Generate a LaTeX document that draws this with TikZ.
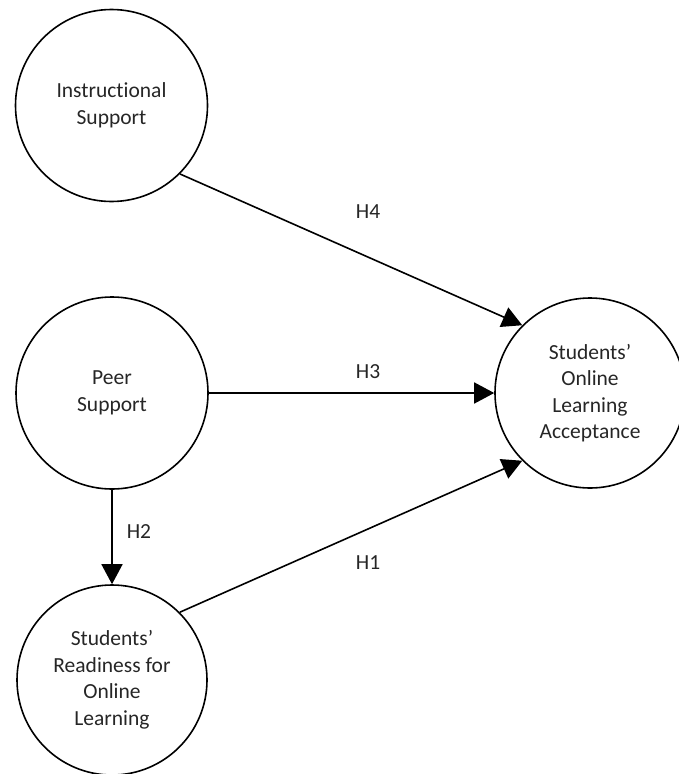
\documentclass[tikz,border=0pt]{standalone}
\usepackage{fontspec}
\setmainfont{Carlito}[Ligatures={NoCommon,NoDiscretionary}]
\usetikzlibrary{arrows.meta}

\tikzset{
  construct/.style={circle, draw=black, line width=1.6pt, inner sep=0pt,
    align=center, text=black!85, font=\fontsize{21.5}{26.5}\selectfont},
  path/.style={draw=black, line width=1.6pt, -{Triangle[length=20pt,width=21pt]}},
  hyp/.style={text=black!85, font=\fontsize{21.5}{26.5}\selectfont, inner sep=0pt}
}

\begin{document}
\begin{tikzpicture}[x=1pt, y=-1pt]
  \useasboundingbox (0,0) rectangle (678,774);

  % latent constructs
  \node[construct, minimum size=192pt] (inst)   at (111.5,105.5) {Instructional\\Support};
  \node[construct, minimum size=192pt] (peer)   at (112,393)     {Peer\\Support};
  \node[construct, minimum size=190pt] (ready)  at (112,680)     {Students’\\Readiness for\\Online\\Learning};
  \node[construct, minimum size=190pt] (accept) at (590,393)     {Students’\\Online\\Learning\\Acceptance};

  % hypothesised paths
  \draw[path] (inst.-45)  -- (accept.135);
  \draw[path] (peer.east) -- (accept.west);
  \draw[path] (peer.south) -- (ready.north);
  \draw[path] (ready.45)  -- (accept.-135);

  % hypothesis labels
  \node[hyp] (h4) at (368,212) {H4};
  \node[hyp] (h3) at (368,372) {H3};
  \node[hyp] (h2) at (139,532) {H2};
  \node[hyp] (h1) at (368,563) {H1};
\end{tikzpicture}
\end{document}
